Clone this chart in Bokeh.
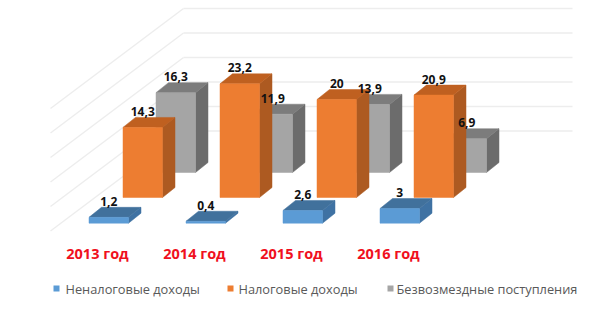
from bokeh.plotting import figure
from bokeh.models import Range1d
from bokeh.core.properties import value
from bokeh.embed import file_html
from bokeh.resources import INLINE

# ---- data
years = ["2013 год", "2014 год", "2015 год", "2016 год"]
series_names = ["Неналоговые доходы", "Налоговые доходы", "Безвозмездные поступления"]
non_tax = [1.2, 0.4, 2.6, 3.0]
tax = [14.3, 23.2, 20.0, 20.9]
grants = [16.3, 11.9, 13.9, 6.9]
non_tax_labels = ["1,2", "0,4", "2,6", "3"]
tax_labels = ["14,3", "23,2", "20", "20,9"]
grants_labels = ["16,3", "11,9", "13,9", "6,9"]
grid_ticks = [5, 10, 15, 20, 25, 30]

# ---- layout (x in page pixels, y in value units, floor of the orange row = 0)
W, H = 592, 310
UNIT = 4.9
FLOOR_PX = 197
def py(px):
    return (FLOOR_PX - px) / UNIT

STEP = 97
BAR_W = 39.5
DX, DY = 12.5, 10 / UNIT

p = figure(width=W, height=H, output_backend="svg", toolbar_location=None,
           x_range=Range1d(0, W), y_range=Range1d(py(H), py(0)),
           min_border=0, outline_line_color=None, background_fill_color="white")
p.axis.visible = False
p.grid.visible = False

# walls
BACK0 = py(155)
WALL_L, WALL_R, FRONT_L = 183, 572, 50
WALL_DROP = 100 / UNIT
gy = [BACK0 + t for t in grid_ticks]
p.segment(x0=[WALL_L] * 6, y0=gy, x1=[WALL_R] * 6, y1=gy, line_color="#EDEDED", line_width=1.5)
p.segment(x0=[WALL_L] * 6, y0=gy, x1=[FRONT_L] * 6, y1=[g - WALL_DROP for g in gy],
          line_color="#EDEDED", line_width=1.5)


def bars(vals, labels, x0, base_px, face, top, side, dy=DY):
    base = py(base_px)
    xs = [x0 + STEP * i for i in range(len(vals))]
    for x, v in zip(xs, vals):
        t = base + v
        p.patch([x + BAR_W, x + BAR_W + DX, x + BAR_W + DX, x + BAR_W],
                [base, base + dy, t + dy, t], fill_color=side, line_color=side, line_width=0.5)
        p.patch([x, x + DX, x + BAR_W + DX, x + BAR_W],
                [t, t + dy, t + dy, t], fill_color=top, line_color=top, line_width=0.5)
        p.quad(left=x, right=x + BAR_W, bottom=base, top=t, fill_color=face, line_color=face, line_width=0.5)
    return xs, base


label_sets = []
for vals, labels, x0, base_px, face, top, side in [
    (grants, grants_labels, 155.5, 172, "#A5A5A5", "#7C7C7C", "#6C6C6C"),
    (tax, tax_labels, 122.5, 197, "#ED7D31", "#BF6020", "#AD5A21"),
    (non_tax, non_tax_labels, 88.5, 222.7, "#5B9BD5", "#41719C", "#3F72A3"),
]:
    xs, base = bars(vals, labels, x0, base_px, face, top, side)
    label_sets.append(([x + BAR_W / 2 for x in xs], [base + v + DY + 6 / UNIT for v in vals], labels))

for lx, ly, lt in label_sets:
    p.text(x=lx, y=ly, text=lt, text_font=value("Open Sans"), text_font_style="bold", text_font_size="12px",
           text_color="#111111", text_align="center", text_baseline="middle")

# category labels
p.text(x=[97 + STEP * i for i in range(4)], y=[py(253)] * 4, text=years, text_font=value("Open Sans"),
       text_font_style="bold", text_font_size="14.5px", text_color="#F01020",
       text_align="center", text_baseline="middle")

# legend
LEG_Y = py(288)
sq_x = [53, 227, 387]
tx_x = [65, 238, 396]
cols = ["#5B9BD5", "#ED7D31", "#A5A5A5"]
p.quad(left=sq_x, right=[x + 6 for x in sq_x], bottom=[LEG_Y - 3 / UNIT] * 3, top=[LEG_Y + 3 / UNIT] * 3,
       fill_color=cols, line_color=None)
p.text(x=tx_x, y=[LEG_Y] * 3, text=series_names, text_font=value("Open Sans"), text_font_size="12.8px",
       text_color="#595959", text_align="left", text_baseline="middle")

open("out.html", "w").write(file_html(p, INLINE))
